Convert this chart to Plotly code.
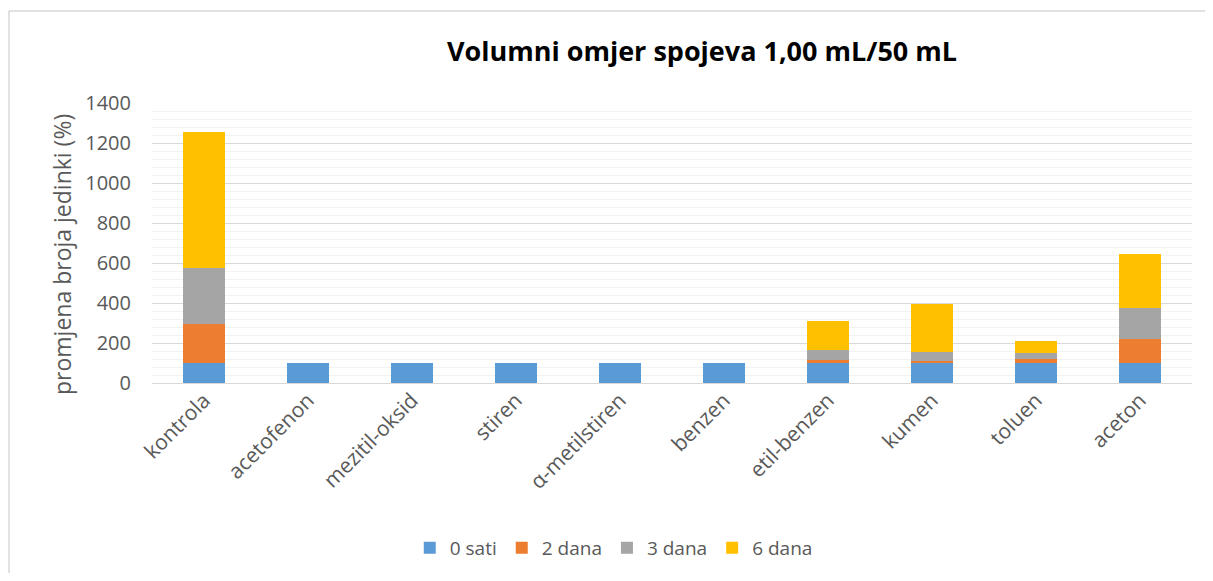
import plotly.graph_objects as go

categories = ["kontrola", "acetofenon", "mezitil-oksid", "stiren", "α-metilstiren",
              "benzen", "etil-benzen", "kumen", "toluen", "aceton"]
series_names = ["0 sati", "2 dana", "3 dana", "6 dana"]
sati_0 = [100, 100, 100, 100, 100, 100, 100, 100, 100, 100]
dana_2 = [195, 0, 0, 0, 0, 0, 16, 11, 21, 121]
dana_3 = [282, 0, 0, 0, 0, 0, 50, 45, 27, 152]
dana_6 = [676, 0, 0, 0, 0, 0, 142, 240, 63, 270]
colors = ["#5B9BD5", "#ED7D31", "#A5A5A5", "#FFC000"]
y_ticks = [0, 200, 400, 600, 800, 1000, 1200, 1400]

FONT = "'Open Sans', Lato, sans-serif"
GREY = "#595959"

W, H = 1197, 565          # page body has an 8 px margin on each side
L, T = 144, 95
PW, PH = 1040, 280
R, B = W - L - PW, H - T - PH

fig = go.Figure()
for name, vals, col in zip(series_names, [sati_0, dana_2, dana_3, dana_6], colors):
    fig.add_trace(go.Bar(x=categories, y=vals, name=name, marker_color=col,
                         marker_line_width=0))

fig.update_layout(
    width=W, height=H,
    barmode="stack", bargap=0.6,
    plot_bgcolor="white", paper_bgcolor="white",
    margin=dict(l=L, r=R, t=T, b=B, autoexpand=False),
    font=dict(family=FONT, color=GREY, size=19),
    title=dict(text="<b>Volumni omjer spojeva 1,00 mL/50 mL</b>",
               x=694 / W, xref="container", xanchor="center",
               y=1 - 44 / H, yref="container", yanchor="middle",
               font=dict(family=FONT, size=27, color="#000000")),
    legend=dict(orientation="h", x=0.444, xanchor="center",
                y=(375 - 540) / PH, yanchor="middle",
                font=dict(size=19, color=GREY), itemwidth=30,
                traceorder="normal"),
    showlegend=True,
)
fig.update_xaxes(showline=False, ticks="", tickangle=-45,
                 tickfont=dict(size=21, color=GREY), showgrid=False)
fig.update_yaxes(range=[0, 1400], tickvals=y_ticks, ticks="",
                 showgrid=True, gridcolor="#D9D9D9", gridwidth=1.3,
                 minor=dict(dtick=40, showgrid=True, gridcolor="#F2F2F2", gridwidth=1.3),
                 zeroline=True, zerolinecolor="#D9D9D9", zerolinewidth=1.3,
                 tickfont=dict(size=20, color=GREY), ticklabelstandoff=20)

fig.add_annotation(text="promjena broja jedinki (%)", textangle=-90,
                   xref="paper", yref="paper", x=(54 - L) / PW, y=(375 - 247) / PH,
                   xanchor="center", yanchor="middle", showarrow=False,
                   font=dict(size=23, color=GREY))

# chart-area border (top and left edges visible in the reference)
bx0, by_top = (1 - L) / PW, (T + PH - 3) / PH
fig.add_shape(type="line", xref="paper", yref="paper",
              x0=bx0, x1=(W + 20 - L) / PW, y0=by_top, y1=by_top,
              line=dict(color="#D9D9D9", width=1.5), layer="below")
fig.add_shape(type="line", xref="paper", yref="paper",
              x0=bx0, x1=bx0, y0=by_top, y1=-(B + 20) / PH,
              line=dict(color="#D9D9D9", width=1.5), layer="below")

fig.write_html("out.html")
